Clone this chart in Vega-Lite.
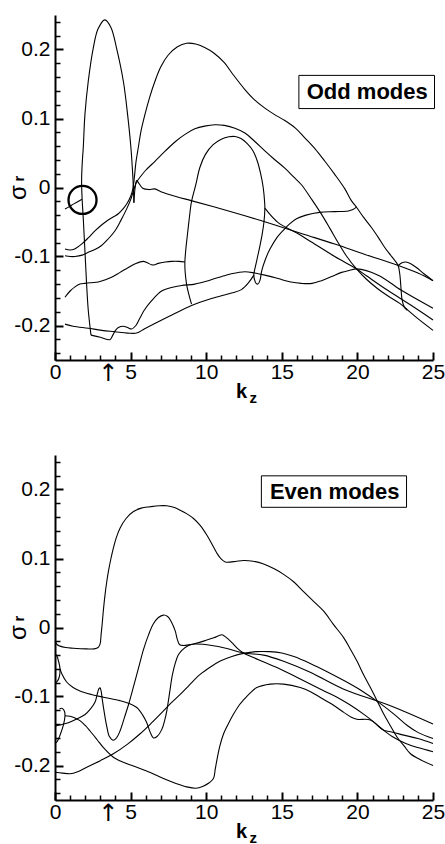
{
"$schema": "https://vega.github.io/schema/vega-lite/v6.json",
"background": "white",
"padding": {"left": 6, "top": 15, "right": 0, "bottom": 0},
"config": {"view": {"stroke": null}, "font": "Liberation Sans"},
"spacing": 95,
"bounds": "flush",
"datasets": {
"odd": [
{"c":"a","i":0,"x":2.38,"y":-0.214},{"c":"a","i":1,"x":2.2,"y":-0.178},{"c":"a","i":2,"x":2.09,"y":-0.14},{"c":"a","i":3,"x":1.98,"y":-0.092},{"c":"a","i":4,"x":1.87,"y":-0.045},{"c":"a","i":5,"x":1.79,"y":-0.015},{"c":"a","i":6,"x":1.76,"y":0.01},{"c":"a","i":7,"x":1.8,"y":0.035},{"c":"a","i":8,"x":1.87,"y":0.058},{"c":"a","i":9,"x":1.98,"y":0.106},{"c":"a","i":10,"x":2.2,"y":0.154},{"c":"a","i":11,"x":2.53,"y":0.202},{"c":"a","i":12,"x":2.85,"y":0.23},{"c":"a","i":13,"x":3.3,"y":0.243},{"c":"a","i":14,"x":3.7,"y":0.232},{"c":"a","i":15,"x":4.07,"y":0.202},{"c":"a","i":16,"x":4.52,"y":0.154},{"c":"a","i":17,"x":4.8,"y":0.106},{"c":"a","i":18,"x":5.02,"y":0.058},{"c":"a","i":19,"x":5.15,"y":0.015},{"c":"a","i":20,"x":5.22,"y":-0.022},
{"c":"b","i":0,"x":0.66,"y":-0.089},{"c":"b","i":1,"x":1.0,"y":-0.0905},{"c":"b","i":2,"x":1.3,"y":-0.089},{"c":"b","i":3,"x":1.76,"y":-0.082},{"c":"b","i":4,"x":2.2,"y":-0.073},{"c":"b","i":5,"x":2.64,"y":-0.063},{"c":"b","i":6,"x":3.1,"y":-0.054},{"c":"b","i":7,"x":3.52,"y":-0.047},{"c":"b","i":8,"x":3.9,"y":-0.042},{"c":"b","i":9,"x":4.19,"y":-0.038},{"c":"b","i":10,"x":4.5,"y":-0.031},{"c":"b","i":11,"x":4.74,"y":-0.024},{"c":"b","i":12,"x":5.0,"y":-0.013},{"c":"b","i":13,"x":5.15,"y":-0.002},{"c":"b","i":14,"x":5.25,"y":0.015},{"c":"b","i":15,"x":5.35,"y":0.036},{"c":"b","i":16,"x":5.51,"y":0.058},{"c":"b","i":17,"x":5.7,"y":0.083},{"c":"b","i":18,"x":5.95,"y":0.106},{"c":"b","i":19,"x":6.25,"y":0.13},{"c":"b","i":20,"x":6.61,"y":0.154},{"c":"b","i":21,"x":7.0,"y":0.175},{"c":"b","i":22,"x":7.49,"y":0.192},{"c":"b","i":23,"x":8.1,"y":0.204},{"c":"b","i":24,"x":8.7,"y":0.209},{"c":"b","i":25,"x":9.3,"y":0.208},{"c":"b","i":26,"x":9.9,"y":0.203},{"c":"b","i":27,"x":10.5,"y":0.195},{"c":"b","i":28,"x":11.2,"y":0.181},{"c":"b","i":29,"x":11.8,"y":0.163},{"c":"b","i":30,"x":12.56,"y":0.142},{"c":"b","i":31,"x":13.2,"y":0.127},{"c":"b","i":32,"x":13.88,"y":0.115},{"c":"b","i":33,"x":14.5,"y":0.106},{"c":"b","i":34,"x":15.2,"y":0.097},{"c":"b","i":35,"x":15.9,"y":0.086},{"c":"b","i":36,"x":16.52,"y":0.072},{"c":"b","i":37,"x":17.2,"y":0.056},{"c":"b","i":38,"x":17.85,"y":0.038},{"c":"b","i":39,"x":18.5,"y":0.019},{"c":"b","i":40,"x":19.17,"y":-0.002},{"c":"b","i":41,"x":19.6,"y":-0.019},{"c":"b","i":42,"x":19.95,"y":-0.029},{"c":"b","i":43,"x":20.4,"y":-0.043},{"c":"b","i":44,"x":20.93,"y":-0.058},{"c":"b","i":45,"x":21.4,"y":-0.073},{"c":"b","i":46,"x":21.81,"y":-0.087},{"c":"b","i":47,"x":22.3,"y":-0.101},{"c":"b","i":48,"x":22.69,"y":-0.113},{"c":"b","i":49,"x":22.8,"y":-0.125},{"c":"b","i":50,"x":22.88,"y":-0.145},{"c":"b","i":51,"x":22.95,"y":-0.162},{"c":"b","i":52,"x":23.1,"y":-0.173},{"c":"b","i":53,"x":23.3,"y":-0.178},
{"c":"c","i":0,"x":0.66,"y":-0.099},{"c":"c","i":1,"x":1.0,"y":-0.1},{"c":"c","i":2,"x":1.32,"y":-0.1},{"c":"c","i":3,"x":1.8,"y":-0.098},{"c":"c","i":4,"x":2.2,"y":-0.094},{"c":"c","i":5,"x":2.64,"y":-0.09},{"c":"c","i":6,"x":3.08,"y":-0.084},{"c":"c","i":7,"x":3.5,"y":-0.075},{"c":"c","i":8,"x":3.96,"y":-0.063},{"c":"c","i":9,"x":4.35,"y":-0.048},{"c":"c","i":10,"x":4.74,"y":-0.031},{"c":"c","i":11,"x":5.0,"y":-0.018},{"c":"c","i":12,"x":5.2,"y":-0.004},{"c":"c","i":13,"x":5.4,"y":0.008},{"c":"c","i":14,"x":5.7,"y":0.017},{"c":"c","i":15,"x":6.0,"y":0.025},{"c":"c","i":16,"x":6.61,"y":0.038},{"c":"c","i":17,"x":7.3,"y":0.053},{"c":"c","i":18,"x":7.93,"y":0.066},{"c":"c","i":19,"x":8.6,"y":0.077},{"c":"c","i":20,"x":9.25,"y":0.085},{"c":"c","i":21,"x":9.9,"y":0.089},{"c":"c","i":22,"x":10.57,"y":0.091},{"c":"c","i":23,"x":11.2,"y":0.09},{"c":"c","i":24,"x":11.9,"y":0.086},{"c":"c","i":25,"x":12.56,"y":0.079},{"c":"c","i":26,"x":13.2,"y":0.067},{"c":"c","i":27,"x":13.88,"y":0.053},{"c":"c","i":28,"x":14.5,"y":0.041},{"c":"c","i":29,"x":15.2,"y":0.028},{"c":"c","i":30,"x":15.8,"y":0.015},{"c":"c","i":31,"x":16.3,"y":0.004},{"c":"c","i":32,"x":17.0,"y":-0.018},{"c":"c","i":33,"x":17.63,"y":-0.039},{"c":"c","i":34,"x":18.2,"y":-0.06},{"c":"c","i":35,"x":18.73,"y":-0.08},{"c":"c","i":36,"x":19.3,"y":-0.1},{"c":"c","i":37,"x":19.94,"y":-0.118},{"c":"c","i":38,"x":20.6,"y":-0.133},{"c":"c","i":39,"x":21.3,"y":-0.146},{"c":"c","i":40,"x":22.0,"y":-0.157},{"c":"c","i":41,"x":22.8,"y":-0.168},{"c":"c","i":42,"x":23.3,"y":-0.177},{"c":"c","i":43,"x":24.0,"y":-0.19},{"c":"c","i":44,"x":25.0,"y":-0.207},
{"c":"d","i":0,"x":0.66,"y":-0.159},{"c":"d","i":1,"x":1.0,"y":-0.15},{"c":"d","i":2,"x":1.32,"y":-0.144},{"c":"d","i":3,"x":1.65,"y":-0.14},{"c":"d","i":4,"x":1.98,"y":-0.139},{"c":"d","i":5,"x":2.4,"y":-0.138},{"c":"d","i":6,"x":2.86,"y":-0.137},{"c":"d","i":7,"x":3.3,"y":-0.134},{"c":"d","i":8,"x":3.74,"y":-0.13},{"c":"d","i":9,"x":4.3,"y":-0.123},{"c":"d","i":10,"x":4.85,"y":-0.116},{"c":"d","i":11,"x":5.35,"y":-0.11},{"c":"d","i":12,"x":5.84,"y":-0.107},{"c":"d","i":13,"x":6.1,"y":-0.109},{"c":"d","i":14,"x":6.39,"y":-0.112},{"c":"d","i":15,"x":6.6,"y":-0.112},{"c":"d","i":16,"x":6.83,"y":-0.11},{"c":"d","i":17,"x":7.3,"y":-0.108},{"c":"d","i":18,"x":7.71,"y":-0.107},{"c":"d","i":19,"x":8.2,"y":-0.107},{"c":"d","i":20,"x":8.59,"y":-0.108},
{"c":"e","i":0,"x":9.03,"y":-0.169},{"c":"e","i":1,"x":8.85,"y":-0.155},{"c":"e","i":2,"x":8.7,"y":-0.14},{"c":"e","i":3,"x":8.6,"y":-0.12},{"c":"e","i":4,"x":8.59,"y":-0.108},{"c":"e","i":5,"x":8.65,"y":-0.09},{"c":"e","i":6,"x":8.75,"y":-0.07},{"c":"e","i":7,"x":8.88,"y":-0.045},{"c":"e","i":8,"x":9.03,"y":-0.02},{"c":"e","i":9,"x":9.3,"y":0.003},{"c":"e","i":10,"x":9.58,"y":0.029},{"c":"e","i":11,"x":9.95,"y":0.048},{"c":"e","i":12,"x":10.46,"y":0.062},{"c":"e","i":13,"x":11.0,"y":0.07},{"c":"e","i":14,"x":11.5,"y":0.0735},{"c":"e","i":15,"x":11.9,"y":0.074},{"c":"e","i":16,"x":12.3,"y":0.071},{"c":"e","i":17,"x":12.7,"y":0.064},{"c":"e","i":18,"x":13.1,"y":0.053},{"c":"e","i":19,"x":13.4,"y":0.037},{"c":"e","i":20,"x":13.6,"y":0.02},{"c":"e","i":21,"x":13.77,"y":0.0},{"c":"e","i":22,"x":13.86,"y":-0.02},{"c":"e","i":23,"x":13.88,"y":-0.03},{"c":"e","i":24,"x":13.82,"y":-0.05},{"c":"e","i":25,"x":13.7,"y":-0.068},{"c":"e","i":26,"x":13.55,"y":-0.085},{"c":"e","i":27,"x":13.4,"y":-0.1},{"c":"e","i":28,"x":13.25,"y":-0.115},{"c":"e","i":29,"x":13.15,"y":-0.126},{"c":"e","i":30,"x":13.2,"y":-0.134},{"c":"e","i":31,"x":13.3,"y":-0.139},{"c":"e","i":32,"x":13.42,"y":-0.14},{"c":"e","i":33,"x":13.55,"y":-0.135},{"c":"e","i":34,"x":13.68,"y":-0.12},{"c":"e","i":35,"x":13.9,"y":-0.105},{"c":"e","i":36,"x":14.2,"y":-0.09},{"c":"e","i":37,"x":14.7,"y":-0.072},{"c":"e","i":38,"x":15.1,"y":-0.062},{"c":"e","i":39,"x":15.5,"y":-0.053},{"c":"e","i":40,"x":16.0,"y":-0.045},{"c":"e","i":41,"x":16.6,"y":-0.04},{"c":"e","i":42,"x":17.5,"y":-0.036},{"c":"e","i":43,"x":18.5,"y":-0.035},{"c":"e","i":44,"x":19.4,"y":-0.034},{"c":"e","i":45,"x":19.7,"y":-0.032},{"c":"e","i":46,"x":19.95,"y":-0.028},
{"c":"f","i":0,"x":0.66,"y":-0.198},{"c":"f","i":1,"x":1.2,"y":-0.201},{"c":"f","i":2,"x":2.2,"y":-0.204},{"c":"f","i":3,"x":3.1,"y":-0.207},{"c":"f","i":4,"x":3.96,"y":-0.209},{"c":"f","i":5,"x":4.8,"y":-0.211},{"c":"f","i":6,"x":5.4,"y":-0.211},{"c":"f","i":7,"x":5.9,"y":-0.205},{"c":"f","i":8,"x":6.6,"y":-0.197},{"c":"f","i":9,"x":7.7,"y":-0.185},{"c":"f","i":10,"x":9.03,"y":-0.171},{"c":"f","i":11,"x":10.35,"y":-0.161},{"c":"f","i":12,"x":11.67,"y":-0.153},{"c":"f","i":13,"x":12.33,"y":-0.148},{"c":"f","i":14,"x":12.8,"y":-0.138},{"c":"f","i":15,"x":13.15,"y":-0.127},
{"c":"g","i":0,"x":2.38,"y":-0.214},{"c":"g","i":1,"x":3.0,"y":-0.217},{"c":"g","i":2,"x":3.63,"y":-0.2205},{"c":"g","i":3,"x":3.8,"y":-0.215},{"c":"g","i":4,"x":4.0,"y":-0.207},{"c":"g","i":5,"x":4.19,"y":-0.203},{"c":"g","i":6,"x":4.52,"y":-0.201},{"c":"g","i":7,"x":4.8,"y":-0.203},{"c":"g","i":8,"x":5.07,"y":-0.205},{"c":"g","i":9,"x":5.35,"y":-0.2},{"c":"g","i":10,"x":5.6,"y":-0.19},{"c":"g","i":11,"x":5.9,"y":-0.178},{"c":"g","i":12,"x":6.39,"y":-0.164},{"c":"g","i":13,"x":7.05,"y":-0.15},{"c":"g","i":14,"x":7.7,"y":-0.145},{"c":"g","i":15,"x":8.37,"y":-0.142},{"c":"g","i":16,"x":9.25,"y":-0.14},{"c":"g","i":17,"x":10.0,"y":-0.136},{"c":"g","i":18,"x":10.57,"y":-0.132},{"c":"g","i":19,"x":11.2,"y":-0.128},{"c":"g","i":20,"x":11.67,"y":-0.125},{"c":"g","i":21,"x":12.56,"y":-0.122},{"c":"g","i":22,"x":13.22,"y":-0.124},{"c":"g","i":23,"x":13.88,"y":-0.127},{"c":"g","i":24,"x":14.76,"y":-0.132},{"c":"g","i":25,"x":15.6,"y":-0.137},{"c":"g","i":26,"x":16.3,"y":-0.139},{"c":"g","i":27,"x":17.0,"y":-0.139},{"c":"g","i":28,"x":17.63,"y":-0.135},{"c":"g","i":29,"x":18.3,"y":-0.129},{"c":"g","i":30,"x":18.95,"y":-0.123},{"c":"g","i":31,"x":19.5,"y":-0.12},{"c":"g","i":32,"x":19.94,"y":-0.118},{"c":"g","i":33,"x":21.37,"y":-0.127},{"c":"g","i":34,"x":22.91,"y":-0.149},{"c":"g","i":35,"x":25.0,"y":-0.175},
{"c":"h","i":0,"x":13.88,"y":-0.03},{"c":"h","i":1,"x":14.76,"y":-0.051},{"c":"h","i":2,"x":16.0,"y":-0.066},{"c":"h","i":3,"x":16.96,"y":-0.079},{"c":"h","i":4,"x":18.5,"y":-0.1},{"c":"h","i":5,"x":19.94,"y":-0.118},{"c":"h","i":6,"x":20.6,"y":-0.128},{"c":"h","i":7,"x":22.0,"y":-0.149},{"c":"h","i":8,"x":23.5,"y":-0.17},{"c":"h","i":9,"x":25.0,"y":-0.192},
{"c":"i","i":0,"x":5.22,"y":-0.022},{"c":"i","i":1,"x":5.3,"y":0.0},{"c":"i","i":2,"x":5.4,"y":0.01},{"c":"i","i":3,"x":5.55,"y":0.006},{"c":"i","i":4,"x":5.8,"y":-0.001},{"c":"i","i":5,"x":6.2,"y":-0.003},{"c":"i","i":6,"x":6.6,"y":-0.002},{"c":"i","i":7,"x":7.0,"y":-0.006},{"c":"i","i":8,"x":8.0,"y":-0.013},{"c":"i","i":9,"x":9.0,"y":-0.019},{"c":"i","i":10,"x":10.5,"y":-0.028},{"c":"i","i":11,"x":12.56,"y":-0.041},{"c":"i","i":12,"x":14.5,"y":-0.054},{"c":"i","i":13,"x":16.5,"y":-0.068},{"c":"i","i":14,"x":18.5,"y":-0.082},{"c":"i","i":15,"x":20.5,"y":-0.097},{"c":"i","i":16,"x":22.7,"y":-0.113},{"c":"i","i":17,"x":24.0,"y":-0.124},{"c":"i","i":18,"x":25.0,"y":-0.135},
{"c":"k","i":0,"x":22.7,"y":-0.113},{"c":"k","i":1,"x":22.95,"y":-0.109},{"c":"k","i":2,"x":23.2,"y":-0.108},{"c":"k","i":3,"x":23.5,"y":-0.11},{"c":"k","i":4,"x":23.9,"y":-0.116},{"c":"k","i":5,"x":24.4,"y":-0.125},{"c":"k","i":6,"x":25.0,"y":-0.135},
{"c":"m","i":0,"x":0.66,"y":-0.031},{"c":"m","i":1,"x":1.0,"y":-0.027},{"c":"m","i":2,"x":1.3,"y":-0.023},{"c":"m","i":3,"x":1.55,"y":-0.02},{"c":"m","i":4,"x":1.78,"y":-0.017}
],
"even": [
{"c":"a","i":0,"x":0.0,"y":-0.02},{"c":"a","i":1,"x":0.15,"y":-0.025},{"c":"a","i":2,"x":0.33,"y":-0.027},{"c":"a","i":3,"x":0.7,"y":-0.029},{"c":"a","i":4,"x":1.21,"y":-0.03},{"c":"a","i":5,"x":2.09,"y":-0.031},{"c":"a","i":6,"x":2.6,"y":-0.031},{"c":"a","i":7,"x":2.85,"y":-0.029},{"c":"a","i":8,"x":2.98,"y":-0.024},{"c":"a","i":9,"x":3.05,"y":-0.01},{"c":"a","i":10,"x":3.12,"y":0.005},{"c":"a","i":11,"x":3.2,"y":0.025},{"c":"a","i":12,"x":3.31,"y":0.0476},{"c":"a","i":13,"x":3.42,"y":0.066},{"c":"a","i":14,"x":3.53,"y":0.081},{"c":"a","i":15,"x":3.7,"y":0.1},{"c":"a","i":16,"x":3.86,"y":0.115},{"c":"a","i":17,"x":4.05,"y":0.13},{"c":"a","i":18,"x":4.3,"y":0.144},{"c":"a","i":19,"x":4.7,"y":0.158},{"c":"a","i":20,"x":5.19,"y":0.168},{"c":"a","i":21,"x":5.7,"y":0.173},{"c":"a","i":22,"x":6.29,"y":0.175},{"c":"a","i":23,"x":6.9,"y":0.1765},{"c":"a","i":24,"x":7.39,"y":0.1765},{"c":"a","i":25,"x":7.9,"y":0.174},{"c":"a","i":26,"x":8.28,"y":0.17},{"c":"a","i":27,"x":8.7,"y":0.165},{"c":"a","i":28,"x":9.16,"y":0.158},{"c":"a","i":29,"x":9.6,"y":0.148},{"c":"a","i":30,"x":10.04,"y":0.134},{"c":"a","i":31,"x":10.4,"y":0.12},{"c":"a","i":32,"x":10.7,"y":0.108},{"c":"a","i":33,"x":11.0,"y":0.099},{"c":"a","i":34,"x":11.26,"y":0.095},{"c":"a","i":35,"x":11.59,"y":0.0948},{"c":"a","i":36,"x":12.0,"y":0.096},{"c":"a","i":37,"x":12.47,"y":0.097},{"c":"a","i":38,"x":13.1,"y":0.096},{"c":"a","i":39,"x":13.8,"y":0.092},{"c":"a","i":40,"x":14.5,"y":0.085},{"c":"a","i":41,"x":15.12,"y":0.077},{"c":"a","i":42,"x":15.8,"y":0.066},{"c":"a","i":43,"x":16.44,"y":0.052},{"c":"a","i":44,"x":17.1,"y":0.038},{"c":"a","i":45,"x":17.77,"y":0.0236},{"c":"a","i":46,"x":18.4,"y":0.005},{"c":"a","i":47,"x":19.1,"y":-0.015},{"c":"a","i":48,"x":19.5,"y":-0.03},{"c":"a","i":49,"x":19.97,"y":-0.0486},{"c":"a","i":50,"x":20.4,"y":-0.068},{"c":"a","i":51,"x":20.86,"y":-0.087},{"c":"a","i":52,"x":21.3,"y":-0.106},{"c":"a","i":53,"x":21.74,"y":-0.1255},{"c":"a","i":54,"x":22.2,"y":-0.143},{"c":"a","i":55,"x":22.63,"y":-0.159},{"c":"a","i":56,"x":23.1,"y":-0.172},{"c":"a","i":57,"x":23.51,"y":-0.183},{"c":"a","i":58,"x":24.2,"y":-0.192},{"c":"a","i":59,"x":25.0,"y":-0.2},
{"c":"b","i":0,"x":0.0,"y":-0.143},{"c":"b","i":1,"x":0.4,"y":-0.141},{"c":"b","i":2,"x":0.88,"y":-0.138},{"c":"b","i":3,"x":1.4,"y":-0.133},{"c":"b","i":4,"x":1.99,"y":-0.126},{"c":"b","i":5,"x":2.35,"y":-0.118},{"c":"b","i":6,"x":2.65,"y":-0.108},{"c":"b","i":7,"x":2.8,"y":-0.096},{"c":"b","i":8,"x":2.9,"y":-0.089},{"c":"b","i":9,"x":2.98,"y":-0.0875},{"c":"b","i":10,"x":3.05,"y":-0.092},{"c":"b","i":11,"x":3.13,"y":-0.105},{"c":"b","i":12,"x":3.25,"y":-0.122},{"c":"b","i":13,"x":3.42,"y":-0.143},{"c":"b","i":14,"x":3.6,"y":-0.158},{"c":"b","i":15,"x":3.86,"y":-0.1635},{"c":"b","i":16,"x":4.1,"y":-0.159},{"c":"b","i":17,"x":4.3,"y":-0.15},{"c":"b","i":18,"x":4.6,"y":-0.13},{"c":"b","i":19,"x":4.86,"y":-0.112},{"c":"b","i":20,"x":5.2,"y":-0.085},{"c":"b","i":21,"x":5.52,"y":-0.059},{"c":"b","i":22,"x":5.85,"y":-0.032},{"c":"b","i":23,"x":6.18,"y":-0.011},{"c":"b","i":24,"x":6.5,"y":0.005},{"c":"b","i":25,"x":6.84,"y":0.0145},{"c":"b","i":26,"x":7.17,"y":0.018},{"c":"b","i":27,"x":7.45,"y":0.016},{"c":"b","i":28,"x":7.7,"y":0.008},{"c":"b","i":29,"x":7.95,"y":-0.005},{"c":"b","i":30,"x":8.1,"y":-0.018},{"c":"b","i":31,"x":8.25,"y":-0.025},{"c":"b","i":32,"x":8.5,"y":-0.026},{"c":"b","i":33,"x":9.27,"y":-0.024},{"c":"b","i":34,"x":10.37,"y":-0.026},{"c":"b","i":35,"x":11.3,"y":-0.03},{"c":"b","i":36,"x":12.47,"y":-0.037},{"c":"b","i":37,"x":13.8,"y":-0.04},{"c":"b","i":38,"x":15.12,"y":-0.049},{"c":"b","i":39,"x":16.88,"y":-0.065},{"c":"b","i":40,"x":19.1,"y":-0.0895},{"c":"b","i":41,"x":22.18,"y":-0.1135},{"c":"b","i":42,"x":25.0,"y":-0.14},
{"c":"c","i":0,"x":0.33,"y":-0.06},{"c":"c","i":1,"x":0.45,"y":-0.067},{"c":"c","i":2,"x":0.77,"y":-0.079},{"c":"c","i":3,"x":1.2,"y":-0.087},{"c":"c","i":4,"x":1.65,"y":-0.092},{"c":"c","i":5,"x":2.4,"y":-0.097},{"c":"c","i":6,"x":3.2,"y":-0.101},{"c":"c","i":7,"x":4.3,"y":-0.106},{"c":"c","i":8,"x":4.9,"y":-0.11},{"c":"c","i":9,"x":5.41,"y":-0.116},{"c":"c","i":10,"x":5.8,"y":-0.127},{"c":"c","i":11,"x":6.07,"y":-0.138},{"c":"c","i":12,"x":6.3,"y":-0.152},{"c":"c","i":13,"x":6.51,"y":-0.16},{"c":"c","i":14,"x":6.75,"y":-0.158},{"c":"c","i":15,"x":7.06,"y":-0.148},{"c":"c","i":16,"x":7.25,"y":-0.135},{"c":"c","i":17,"x":7.4,"y":-0.12},{"c":"c","i":18,"x":7.61,"y":-0.09},{"c":"c","i":19,"x":7.75,"y":-0.07},{"c":"c","i":20,"x":7.95,"y":-0.052},{"c":"c","i":21,"x":8.15,"y":-0.04},{"c":"c","i":22,"x":8.39,"y":-0.033},{"c":"c","i":23,"x":8.83,"y":-0.026},{"c":"c","i":24,"x":9.16,"y":-0.024},{"c":"c","i":25,"x":9.93,"y":-0.019},{"c":"c","i":26,"x":10.5,"y":-0.015},{"c":"c","i":27,"x":11.04,"y":-0.0105},{"c":"c","i":28,"x":11.3,"y":-0.014},{"c":"c","i":29,"x":11.7,"y":-0.022},{"c":"c","i":30,"x":12.1,"y":-0.031},{"c":"c","i":31,"x":12.47,"y":-0.037},{"c":"c","i":32,"x":13.5,"y":-0.047},{"c":"c","i":33,"x":14.68,"y":-0.058},{"c":"c","i":34,"x":15.8,"y":-0.07},{"c":"c","i":35,"x":16.88,"y":-0.082},{"c":"c","i":36,"x":17.8,"y":-0.092},{"c":"c","i":37,"x":18.65,"y":-0.101},{"c":"c","i":38,"x":19.5,"y":-0.112},{"c":"c","i":39,"x":20.5,"y":-0.127},{"c":"c","i":40,"x":21.2,"y":-0.139},{"c":"c","i":41,"x":21.74,"y":-0.149},{"c":"c","i":42,"x":22.18,"y":-0.151},{"c":"c","i":43,"x":23.07,"y":-0.156},{"c":"c","i":44,"x":24.0,"y":-0.161},{"c":"c","i":45,"x":25.0,"y":-0.168},
{"c":"d","i":0,"x":0.0,"y":-0.2097},{"c":"d","i":1,"x":0.5,"y":-0.211},{"c":"d","i":2,"x":0.99,"y":-0.212},{"c":"d","i":3,"x":1.5,"y":-0.209},{"c":"d","i":4,"x":2.1,"y":-0.2025},{"c":"d","i":5,"x":3.0,"y":-0.193},{"c":"d","i":6,"x":3.86,"y":-0.183},{"c":"d","i":7,"x":4.8,"y":-0.169},{"c":"d","i":8,"x":5.63,"y":-0.154},{"c":"d","i":9,"x":6.4,"y":-0.138},{"c":"d","i":10,"x":7.17,"y":-0.121},{"c":"d","i":11,"x":7.7,"y":-0.109},{"c":"d","i":12,"x":8.28,"y":-0.097},{"c":"d","i":13,"x":8.9,"y":-0.083},{"c":"d","i":14,"x":9.6,"y":-0.068},{"c":"d","i":15,"x":10.3,"y":-0.057},{"c":"d","i":16,"x":10.93,"y":-0.0486},{"c":"d","i":17,"x":11.7,"y":-0.042},{"c":"d","i":18,"x":12.47,"y":-0.0375},{"c":"d","i":19,"x":13.3,"y":-0.035},{"c":"d","i":20,"x":14.2,"y":-0.035},{"c":"d","i":21,"x":15.0,"y":-0.037},{"c":"d","i":22,"x":15.8,"y":-0.042},{"c":"d","i":23,"x":16.88,"y":-0.052},{"c":"d","i":24,"x":18.0,"y":-0.064},{"c":"d","i":25,"x":19.2,"y":-0.078},{"c":"d","i":26,"x":20.3,"y":-0.092},{"c":"d","i":27,"x":21.5,"y":-0.11},{"c":"d","i":28,"x":22.5,"y":-0.127},{"c":"d","i":29,"x":23.3,"y":-0.142},{"c":"d","i":30,"x":24.0,"y":-0.152},{"c":"d","i":31,"x":25.0,"y":-0.161},
{"c":"e","i":0,"x":0.66,"y":-0.128},{"c":"e","i":1,"x":1.21,"y":-0.13},{"c":"e","i":2,"x":1.65,"y":-0.135},{"c":"e","i":3,"x":2.0,"y":-0.142},{"c":"e","i":4,"x":2.32,"y":-0.15},{"c":"e","i":5,"x":2.8,"y":-0.163},{"c":"e","i":6,"x":3.2,"y":-0.174},{"c":"e","i":7,"x":3.86,"y":-0.188},{"c":"e","i":8,"x":4.6,"y":-0.196},{"c":"e","i":9,"x":5.41,"y":-0.2025},{"c":"e","i":10,"x":6.3,"y":-0.21},{"c":"e","i":11,"x":7.17,"y":-0.219},{"c":"e","i":12,"x":8.0,"y":-0.226},{"c":"e","i":13,"x":8.72,"y":-0.231},{"c":"e","i":14,"x":9.3,"y":-0.233},{"c":"e","i":15,"x":9.8,"y":-0.23},{"c":"e","i":16,"x":10.2,"y":-0.225},{"c":"e","i":17,"x":10.48,"y":-0.219},{"c":"e","i":18,"x":10.6,"y":-0.205},{"c":"e","i":19,"x":10.7,"y":-0.193},{"c":"e","i":20,"x":10.9,"y":-0.172},{"c":"e","i":21,"x":11.15,"y":-0.154},{"c":"e","i":22,"x":11.5,"y":-0.138},{"c":"e","i":23,"x":11.81,"y":-0.1255},{"c":"e","i":24,"x":12.2,"y":-0.112},{"c":"e","i":25,"x":12.47,"y":-0.105},{"c":"e","i":26,"x":12.9,"y":-0.095},{"c":"e","i":27,"x":13.35,"y":-0.087},{"c":"e","i":28,"x":14.24,"y":-0.082},{"c":"e","i":29,"x":15.12,"y":-0.082},{"c":"e","i":30,"x":16.22,"y":-0.087},{"c":"e","i":31,"x":16.9,"y":-0.093},{"c":"e","i":32,"x":17.55,"y":-0.1015},{"c":"e","i":33,"x":18.3,"y":-0.111},{"c":"e","i":34,"x":19.1,"y":-0.123},{"c":"e","i":35,"x":19.6,"y":-0.13},{"c":"e","i":36,"x":19.97,"y":-0.133},{"c":"e","i":37,"x":20.86,"y":-0.134},{"c":"e","i":38,"x":21.5,"y":-0.145},{"c":"e","i":39,"x":22.3,"y":-0.158},{"c":"e","i":40,"x":23.2,"y":-0.168},{"c":"e","i":41,"x":24.0,"y":-0.174},{"c":"e","i":42,"x":25.0,"y":-0.18},
{"c":"g","i":0,"x":0.0,"y":-0.038},{"c":"g","i":1,"x":0.12,"y":-0.041},{"c":"g","i":2,"x":0.25,"y":-0.05},{"c":"g","i":3,"x":0.33,"y":-0.06},{"c":"g","i":4,"x":0.3,"y":-0.07},{"c":"g","i":5,"x":0.18,"y":-0.077},{"c":"g","i":6,"x":0.0,"y":-0.081},
{"c":"h","i":0,"x":0.0,"y":-0.168},{"c":"h","i":1,"x":0.15,"y":-0.165},{"c":"h","i":2,"x":0.35,"y":-0.155},{"c":"h","i":3,"x":0.55,"y":-0.142},{"c":"h","i":4,"x":0.66,"y":-0.128},{"c":"h","i":5,"x":0.62,"y":-0.121},{"c":"h","i":6,"x":0.45,"y":-0.117},{"c":"h","i":7,"x":0.3,"y":-0.118}
]
},
"vconcat": [
{
"width": 378, "height": 345,
"layer": [
{"data": {"name": "odd"},
 "mark": {"type": "line", "interpolate": "catmull-rom", "color": "black", "strokeWidth": 1.1},
 "encoding": {
  "x": {"field": "x", "type": "quantitative", "scale": {"domain": [0, 25], "nice": false, "zero": false},
   "axis": {"orient": "bottom", "values": [0, 3.5, 5, 10, 15, 20, 25], "labelExpr": "datum.value == 3.5 ? '↑' : datum.label", "grid": false, "domainColor": "black", "domainWidth": 2, "ticks": false, "tickSize": 0, "labelFont": {"condition": {"test": "datum.value == 3.5", "value": "DejaVu Sans"}, "value": "Liberation Sans"}, "labelFontSize": {"condition": {"test": "datum.value == 3.5", "value": 24}, "value": 21}, "labelColor": "black", "labelPadding": 1.5, "labelFlush": false, "labelOverlap": false, "labelBound": false, "title": "k", "titleFont": "Liberation Sans", "titleFontSize": 20, "titleFontWeight": "bold", "titleColor": "black", "titleX": 186, "titleY": 37, "titleAlign": "center", "titleBaseline": "alphabetic"}},
  "y": {"field": "y", "type": "quantitative", "scale": {"domain": [-0.25, 0.25], "nice": false, "zero": false},
   "axis": {"orient": "left", "values": [-0.2, -0.1, 0, 0.1, 0.2], "labelExpr": "datum.value == 0 ? '0' : (datum.value < 0 ? '-' : '') + format(abs(datum.value), '.1f')", "grid": false, "domainColor": "black", "domainWidth": 2, "ticks": false, "tickSize": 0, "labelFont": "Liberation Sans", "labelFontSize": 21, "labelColor": "black", "labelPadding": 5, "labelOverlap": false, "labelBound": false, "labelFlush": false, "title": "σ", "titleFont": "Liberation Sans", "titleFontSize": 24, "titleFontWeight": "normal", "titleColor": "black", "titleX": -30, "titleY": 177, "titleAlign": "center", "titleBaseline": "alphabetic", "titleAngle": 270}},
  "detail": {"field": "c"},
  "order": {"field": "i", "type": "quantitative"}
 }},
{"data": {"values": [{"x": 1.82, "y": -0.018}]},
 "mark": {"type": "point", "shape": "circle", "filled": false, "size": 785, "strokeWidth": 2.3, "color": "black", "opacity": 1},
 "encoding": {
  "x": {"field": "x", "type": "quantitative", "scale": {"domain": [0, 25], "nice": false, "zero": false}, "axis": null},
  "y": {"field": "y", "type": "quantitative", "scale": {"domain": [-0.25, 0.25], "nice": false, "zero": false}, "axis": null}
 }},
{"data": {"values": [{"x1": 16.13, "x2": 25.1, "y1": 0.1144, "y2": 0.1625}]},
 "mark": {"type": "rect", "fill": "white", "stroke": "black", "strokeWidth": 1},
 "encoding": {
  "x": {"field": "x1", "type": "quantitative", "scale": {"domain": [0, 25], "nice": false, "zero": false},
   "axis": {"orient": "bottom", "offset": -8, "values": [0, 5, 10, 15, 20, 25], "labels": false, "domain": false, "grid": false, "ticks": true, "tickColor": "black", "tickWidth": 2, "tickSize": 8, "title": "z", "titleFont": "Liberation Sans", "titleFontSize": 15, "titleFontWeight": "bold", "titleColor": "black", "titleX": 194, "titleY": 50, "titleAlign": "left", "titleBaseline": "alphabetic"}},
  "x2": {"field": "x2"},
  "y": {"field": "y1", "type": "quantitative", "scale": {"domain": [-0.25, 0.25], "nice": false, "zero": false},
   "axis": {"orient": "left", "offset": -8, "values": [-0.2, -0.1, 0, 0.1, 0.2], "labels": false, "domain": false, "grid": false, "ticks": true, "tickColor": "black", "tickWidth": 2, "tickSize": 8, "title": "r", "titleFont": "Liberation Sans", "titleFontSize": 15, "titleFontWeight": "bold", "titleColor": "black", "titleX": -40, "titleY": 163, "titleAlign": "center", "titleBaseline": "alphabetic", "titleAngle": 270}},
  "y2": {"field": "y2"}
 }},
{"data": {"values": [{"x": 20.65, "y": 0.1385, "t": "Odd modes"}]},
 "mark": {"type": "text", "font": "Liberation Sans", "fontWeight": "bold", "fontSize": 22, "align": "center", "baseline": "middle", "color": "black"},
 "encoding": {
  "x": {"field": "x", "type": "quantitative", "scale": {"domain": [0, 25], "nice": false, "zero": false},
   "axis": {"orient": "bottom", "offset": -5, "values": [1, 2, 3, 4, 6, 7, 8, 9, 11, 12, 13, 14, 16, 17, 18, 19, 21, 22, 23, 24], "labels": false, "domain": false, "grid": false, "ticks": true, "tickColor": "black", "tickWidth": 1.5, "tickSize": 5, "title": null}},
  "y": {"field": "y", "type": "quantitative", "scale": {"domain": [-0.25, 0.25], "nice": false, "zero": false},
   "axis": {"orient": "left", "offset": -5, "values": [-0.24, -0.22, -0.18, -0.16, -0.14, -0.12, -0.08, -0.06, -0.04, -0.02, 0.02, 0.04, 0.06, 0.08, 0.12, 0.14, 0.16, 0.18, 0.22, 0.24], "labels": false, "domain": false, "grid": false, "ticks": true, "tickColor": "black", "tickWidth": 1.5, "tickSize": 5, "title": null}},
  "text": {"field": "t"}
 }}
],
"resolve": {"axis": {"x": "independent", "y": "independent"}}
},
{
"width": 378, "height": 345,
"layer": [
{"data": {"name": "even"},
 "mark": {"type": "line", "interpolate": "catmull-rom", "color": "black", "strokeWidth": 1.1},
 "encoding": {
  "x": {"field": "x", "type": "quantitative", "scale": {"domain": [0, 25], "nice": false, "zero": false},
   "axis": {"orient": "bottom", "values": [0, 3.5, 5, 10, 15, 20, 25], "labelExpr": "datum.value == 3.5 ? '↑' : datum.label", "grid": false, "domainColor": "black", "domainWidth": 2, "ticks": false, "tickSize": 0, "labelFont": {"condition": {"test": "datum.value == 3.5", "value": "DejaVu Sans"}, "value": "Liberation Sans"}, "labelFontSize": {"condition": {"test": "datum.value == 3.5", "value": 24}, "value": 21}, "labelColor": "black", "labelPadding": 1.5, "labelFlush": false, "labelOverlap": false, "labelBound": false, "title": "k", "titleFont": "Liberation Sans", "titleFontSize": 20, "titleFontWeight": "bold", "titleColor": "black", "titleX": 186, "titleY": 37, "titleAlign": "center", "titleBaseline": "alphabetic"}},
  "y": {"field": "y", "type": "quantitative", "scale": {"domain": [-0.25, 0.25], "nice": false, "zero": false},
   "axis": {"orient": "left", "values": [-0.2, -0.1, 0, 0.1, 0.2], "labelExpr": "datum.value == 0 ? '0' : (datum.value < 0 ? '-' : '') + format(abs(datum.value), '.1f')", "grid": false, "domainColor": "black", "domainWidth": 2, "ticks": false, "tickSize": 0, "labelFont": "Liberation Sans", "labelFontSize": 21, "labelColor": "black", "labelPadding": 5, "labelOverlap": false, "labelBound": false, "labelFlush": false, "title": "σ", "titleFont": "Liberation Sans", "titleFontSize": 24, "titleFontWeight": "normal", "titleColor": "black", "titleX": -30, "titleY": 177, "titleAlign": "center", "titleBaseline": "alphabetic", "titleAngle": 270}},
  "detail": {"field": "c"},
  "order": {"field": "i", "type": "quantitative"}
 }},
{"data": {"values": [{"x1": 13.65, "x2": 23.25, "y1": 0.1742, "y2": 0.2198}]},
 "mark": {"type": "rect", "fill": "white", "stroke": "black", "strokeWidth": 1},
 "encoding": {
  "x": {"field": "x1", "type": "quantitative", "scale": {"domain": [0, 25], "nice": false, "zero": false},
   "axis": {"orient": "bottom", "offset": -8, "values": [0, 5, 10, 15, 20, 25], "labels": false, "domain": false, "grid": false, "ticks": true, "tickColor": "black", "tickWidth": 2, "tickSize": 8, "title": "z", "titleFont": "Liberation Sans", "titleFontSize": 15, "titleFontWeight": "bold", "titleColor": "black", "titleX": 194, "titleY": 50, "titleAlign": "left", "titleBaseline": "alphabetic"}},
  "x2": {"field": "x2"},
  "y": {"field": "y1", "type": "quantitative", "scale": {"domain": [-0.25, 0.25], "nice": false, "zero": false},
   "axis": {"orient": "left", "offset": -8, "values": [-0.2, -0.1, 0, 0.1, 0.2], "labels": false, "domain": false, "grid": false, "ticks": true, "tickColor": "black", "tickWidth": 2, "tickSize": 8, "title": "r", "titleFont": "Liberation Sans", "titleFontSize": 15, "titleFontWeight": "bold", "titleColor": "black", "titleX": -40, "titleY": 163, "titleAlign": "center", "titleBaseline": "alphabetic", "titleAngle": 270}},
  "y2": {"field": "y2"}
 }},
{"data": {"values": [{"x": 18.5, "y": 0.197, "t": "Even modes"}]},
 "mark": {"type": "text", "font": "Liberation Sans", "fontWeight": "bold", "fontSize": 22, "align": "center", "baseline": "middle", "color": "black"},
 "encoding": {
  "x": {"field": "x", "type": "quantitative", "scale": {"domain": [0, 25], "nice": false, "zero": false},
   "axis": {"orient": "bottom", "offset": -5, "values": [1, 2, 3, 4, 6, 7, 8, 9, 11, 12, 13, 14, 16, 17, 18, 19, 21, 22, 23, 24], "labels": false, "domain": false, "grid": false, "ticks": true, "tickColor": "black", "tickWidth": 1.5, "tickSize": 5, "title": null}},
  "y": {"field": "y", "type": "quantitative", "scale": {"domain": [-0.25, 0.25], "nice": false, "zero": false},
   "axis": {"orient": "left", "offset": -5, "values": [-0.24, -0.22, -0.18, -0.16, -0.14, -0.12, -0.08, -0.06, -0.04, -0.02, 0.02, 0.04, 0.06, 0.08, 0.12, 0.14, 0.16, 0.18, 0.22, 0.24], "labels": false, "domain": false, "grid": false, "ticks": true, "tickColor": "black", "tickWidth": 1.5, "tickSize": 5, "title": null}},
  "text": {"field": "t"}
 }}
],
"resolve": {"axis": {"x": "independent", "y": "independent"}}
}
]
}
